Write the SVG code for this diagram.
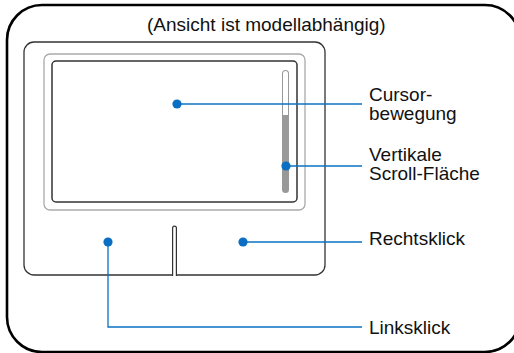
<svg xmlns="http://www.w3.org/2000/svg" width="514" height="353" viewBox="0 0 514 353">
<style>
.t{font-family:"Liberation Sans",Arial,sans-serif;font-size:19px;fill:#111}
.c{stroke:#0a72c4;stroke-width:1.3;fill:none}
.d{fill:#0a6fc2}
</style>
<rect width="514" height="353" fill="#fff"/>
<g id="frame">
<rect x="7" y="5" width="513" height="347" rx="35" fill="none" stroke="#000" stroke-width="2.6"/>
<text class="t" x="147" y="31">(Ansicht ist modellabhängig)</text>
</g>
<g id="touchpad">
<rect x="24" y="42" width="301" height="233" rx="10" fill="#fff" stroke="#333" stroke-width="1.3"/>
<rect x="44" y="54" width="261" height="156" rx="6" fill="none" stroke="#aaa" stroke-width="1.3"/>
<rect x="52" y="61" width="245" height="141" rx="4" fill="none" stroke="#333" stroke-width="1.5"/>
<path d="M172.6,276 V228 a1.9,1.9 0 0 1 3.8,0 V276" fill="#fff" stroke="#333" stroke-width="1.2"/>
</g>
<g id="scrollbar">
<rect x="282" y="70" width="7" height="123" rx="3.5" fill="#999"/>
<path d="M283,115 V73.5 a2.5,2.5 0 0 1 5,0 V115 Z" fill="#fff"/>
</g>
<g id="connectors">
<line class="c" x1="177" y1="104" x2="362" y2="104"/>
<line class="c" x1="286" y1="166" x2="362" y2="166"/>
<line class="c" x1="243" y1="242" x2="362" y2="242"/>
<polyline class="c" points="108,242 108,327 362,327"/>
</g>
<g id="cursor">
<circle class="d" cx="177" cy="104" r="4.6"/>
<text class="t" x="369" y="101">Cursor-</text>
<text class="t" x="369" y="120">bewegung</text>
</g>
<g id="scroll">
<circle class="d" cx="286" cy="166" r="4.6"/>
<text class="t" x="369" y="161">Vertikale</text>
<text class="t" x="369" y="180">Scroll-Fläche</text>
</g>
<g id="right">
<circle class="d" cx="243" cy="242" r="4.6"/>
<text class="t" x="369" y="245">Rechtsklick</text>
</g>
<g id="left">
<circle class="d" cx="108" cy="242" r="4.6"/>
<text class="t" x="369" y="334">Linksklick</text>
</g>
</svg>
